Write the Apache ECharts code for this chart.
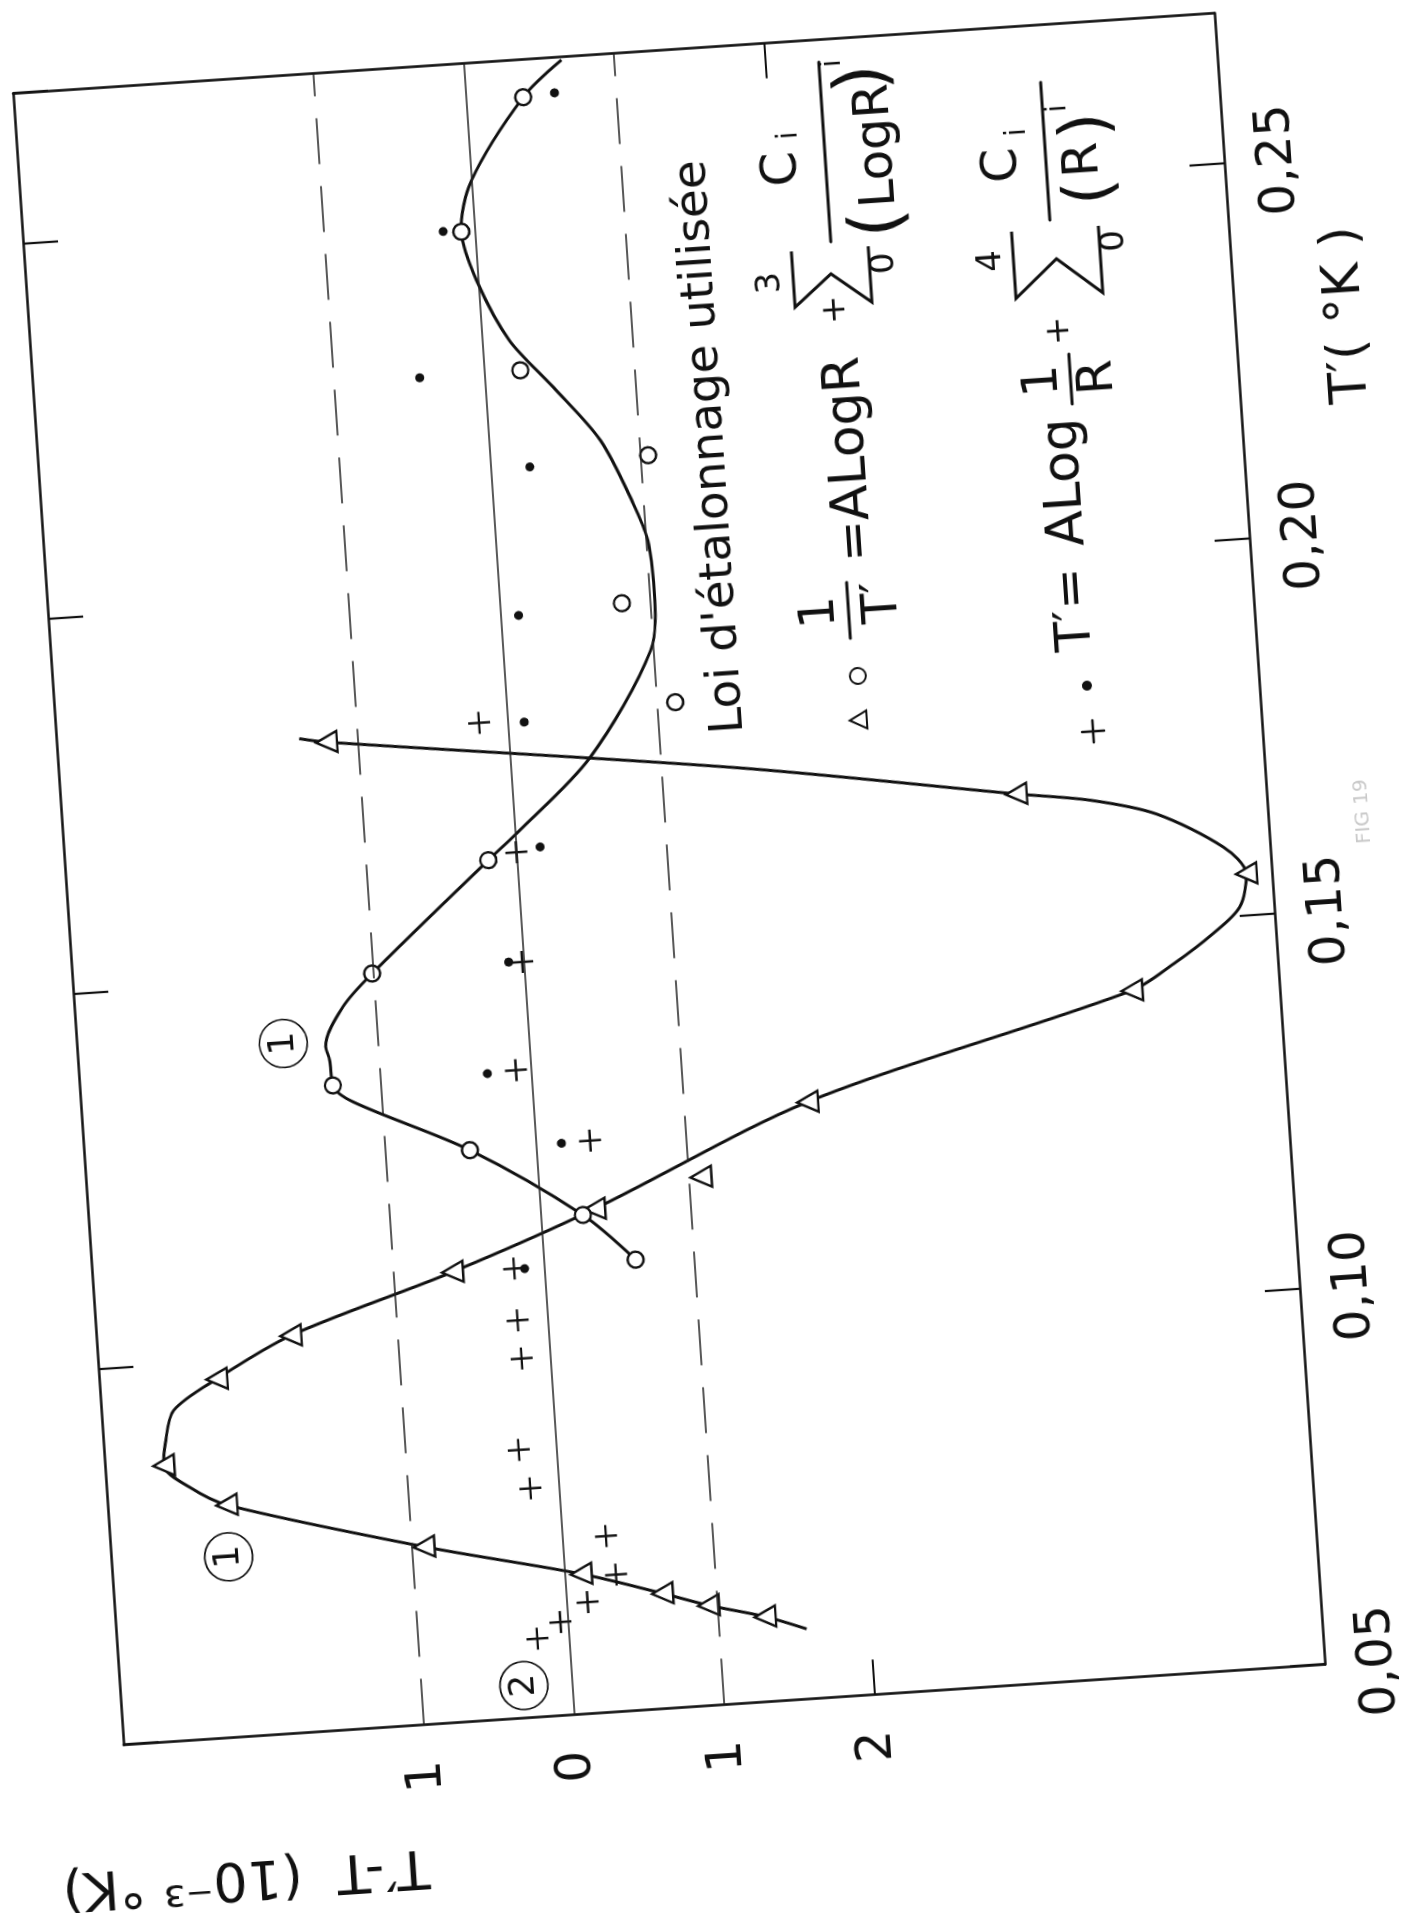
<!DOCTYPE html>
<html>
<head>
<meta charset="utf-8">
<script src="https://cdn.jsdelivr.net/npm/echarts@6/dist/echarts.min.js"></script>
<style>
  html, body { margin: 0; padding: 0; background: #fff; }
  body { width: 1421px; height: 1913px; overflow: hidden; position: relative; }
  /* the sheet is drawn landscape and turned onto the portrait page */
  #chart { position: absolute; left: -430.85px; top: 28.7px; width: 2200px; height: 1700px;
           transform: rotate(-93.83deg); }
</style>
</head>
<body>
<div id="chart"></div>
<script>
// T' in K, deviation T'-T in 1e-3 K
const triangleT   = [0.0613, 0.0633, 0.0653, 0.0686, 0.0736, 0.0809, 0.0867, 0.0977, 0.1028, 0.1098, 0.1169, 0.1202, 0.1292, 0.1411, 0.1556, 0.1682, 0.1812];
const triangleDev = [-1.31, -0.94, -0.64, -0.11, 0.92, 2.21, 2.61, 2.22, 1.71, 0.61, -0.36, -1.08, -1.82, -4.02, -4.83, -3.34, 1.21];

const circleT   = [0.1098, 0.1162, 0.1258, 0.1356, 0.1501, 0.1641, 0.1834, 0.1970, 0.2164, 0.2288, 0.2477, 0.2650];
const circleDev = [-0.61, -0.28, 0.44, 1.32, 1.01, 0.19, -1.12, -0.81, -1.05, -0.24, 0.09, -0.38];

const dotT   = [0.2653, 0.2479, 0.2287, 0.2159, 0.1963, 0.1821, 0.1654, 0.1504, 0.1358, 0.1259, 0.1096];
const dotDev = [-0.59, 0.21, 0.43, -0.26, -0.12, -0.11, -0.16, 0.10, 0.29, -0.17, 0.13];

const plusT   = [0.1824, 0.1649, 0.1503, 0.1360, 0.1260, 0.1097, 0.1028, 0.0977, 0.0856, 0.0804, 0.0734, 0.0682, 0.0648, 0.0624, 0.0604];
const plusDev = [0.19, 0.00, 0.01, 0.10, -0.36, 0.20, 0.20, 0.19, 0.25, 0.19, -0.29, -0.34, -0.14, 0.05, 0.21];

// hand-drawn curve (1) through the triangle points
const triCurveT   = [0.0593, 0.0613, 0.0633, 0.0653, 0.0686, 0.0736, 0.0809, 0.0836, 0.0867, 0.0896, 0.0939, 0.0977, 0.1028, 0.1098, 0.1169, 0.1292, 0.1411, 0.1443, 0.1479, 0.1512, 0.1556, 0.1593, 0.1643, 0.1667, 0.1682, 0.1741, 0.1812, 0.1819];
const triCurveDev = [-1.58, -1.31, -0.94, -0.64, -0.11, 0.92, 2.21, 2.45, 2.61, 2.59, 2.52, 2.22, 1.71, 0.61, -0.36, -1.82, -4.02, -4.31, -4.58, -4.77, -4.83, -4.69, -4.26, -3.83, -3.34, -1.52, 1.21, 1.39];

// hand-drawn curve (1) through the circle points
const cirCurveT   = [0.1098, 0.1162, 0.1258, 0.1332, 0.1356, 0.1390, 0.1408, 0.1459, 0.1501, 0.1641, 0.1674, 0.1768, 0.1905, 0.1984, 0.2051, 0.2101, 0.2188, 0.2263, 0.2329, 0.2411, 0.2477, 0.2544, 0.2650, 0.2696];
const cirCurveDev = [-0.61, -0.28, 0.44, 1.19, 1.32, 1.33, 1.35, 1.22, 1.01, 0.19, -0.01, -0.53, -0.98, -1.03, -1.01, -0.93, -0.74, -0.45, -0.18, 0.01, 0.09, 0.00, -0.38, -0.65];

// circled curve numbers
const tagText = ['1', '1', '2'];
const tagT    = [0.1416, 0.0740, 0.0543];
const tagDev  = [1.63, 2.22, 0.32];

// reference levels and labelled ticks of the deviation axis
const dashedLevels = [1, -1];
const zeroLevel = 0;
const devLabelValues = [-2, -1, 0, 1];
const devTickValues = [-2];

const FONT = "'DejaVu Sans', 'Liberation Sans', sans-serif";
const INK = '#111';

const zip = (a, b) => a.map((v, i) => [v, b[i]]);

function txt(text, x, baseline, size, align, extra) {
  return Object.assign({
    type: 'text', silent: true,
    x: x, y: baseline - 0.35 * size,
    style: { text: text, fill: INK, fontSize: size, fontFamily: FONT,
             align: align || 'left', verticalAlign: 'middle' }
  }, extra || {});
}
function seg(x1, y1, x2, y2, w) {
  return { type: 'line', silent: true, shape: { x1, y1, x2, y2 },
           style: { stroke: INK, lineWidth: w || 3, lineCap: 'round' } };
}
function sigma(pts) {
  return { type: 'polyline', silent: true, shape: { points: pts },
           style: { stroke: INK, lineWidth: 3, fill: null, lineJoin: 'miter' } };
}

const graphics = [
  // heading of the key
  txt("Loi d'étalonnage utilisée", 1241, 937, 47),

  // first law: 1/T' = A Log R + sum C_i/(Log R)^i
  { type: 'polygon', silent: true, shape: { points: [[1237, 1058], [1255, 1058], [1246, 1041]] },
    style: { stroke: INK, fill: '#fff', lineWidth: 2 } },
  { type: 'circle', silent: true, shape: { cx: 1290, cy: 1052, r: 8 },
    style: { stroke: INK, fill: '#fff', lineWidth: 2 } },
  txt('1', 1356, 1037, 50, 'center'),
  seg(1328, 1047, 1384, 1047),
  txt('T′', 1362, 1100, 50, 'center'),
  txt('=', 1404, 1078, 50),
  txt('ALogR', 1445, 1078, 52),
  txt('+', 1657, 1066, 34, 'center'),
  sigma([[1718, 1014], [1662, 1014], [1693, 1052], [1662, 1091], [1718, 1091]]),
  txt('3', 1688, 1003, 34, 'center'),
  txt('0', 1700, 1118, 34, 'center'),
  txt('C', 1801, 1029, 50, 'center'),
  txt('i', 1834, 1030, 28, 'center'),
  seg(1725, 1054, 1905, 1054),
  txt('(', 1740, 1130, 72, 'center'),
  txt('LogR', 1756, 1125, 50),
  txt(')', 1886, 1124, 72, 'center'),
  txt('i', 1903, 1078, 28, 'center'),

  // second law: T' = A Log 1/R + sum C_i/R^i
  seg(1208, 1283, 1230, 1283, 2.5),
  seg(1219, 1272, 1219, 1294, 2.5),
  { type: 'circle', silent: true, shape: { cx: 1265, cy: 1280, r: 5 }, style: { fill: INK } },
  txt('T′=', 1300, 1291, 50),
  txt('ALog', 1405, 1291, 52),
  txt('1', 1572, 1275, 50, 'center'),
  seg(1547, 1284, 1597, 1284),
  txt('R', 1572, 1330, 50, 'center'),
  txt('+', 1621, 1288, 34, 'center'),
  sigma([[1723, 1235], [1656, 1235], [1693, 1278], [1656, 1322], [1723, 1322]]),
  txt('4', 1695, 1225, 34, 'center'),
  txt('0', 1707, 1349, 34, 'center'),
  txt('C', 1790, 1249, 50, 'center'),
  txt('i', 1822, 1258, 28, 'center'),
  seg(1732, 1274, 1870, 1274),
  txt('(', 1757, 1342, 66, 'center'),
  txt('R', 1790, 1330, 50, 'center'),
  txt(')', 1824, 1342, 66, 'center'),
  txt('i', 1843, 1300, 28, 'center'),

  // axis titles
  txt('T′( °K )', 1529, 1583, 52),
  { type: 'text', silent: true, x: 133, y: 545, rotation: Math.PI / 2,
    style: { text: 'T′-T  (10⁻³ °K)', fill: INK, fontSize: 54, fontFamily: FONT,
             align: 'left', verticalAlign: 'middle' } },

  // figure number, faint
  { type: 'text', silent: true, x: 1121, y: 1547,
    style: { text: 'FIG 19', fill: '#c9c9c9', fontSize: 20, fontFamily: FONT,
             align: 'center', verticalAlign: 'middle' } }
];

const frameLine = { show: true, onZero: false, lineStyle: { color: INK, width: 2.6 } };
const tickStyle = { color: INK, width: 2.2 };

const option = {
  animation: false,
  backgroundColor: '#fff',
  grid: { left: 272.6, top: 248, width: 1654.8, height: 1204, containLabel: false, outerBoundsMode: 'none' },
  xAxis: [
    { type: 'value', position: 'bottom', min: 0.05, max: 0.27, interval: 0.05,
      axisLine: frameLine,
      axisTick: { show: true, inside: true, length: 35, lineStyle: tickStyle },
      axisLabel: { show: true, margin: 29, fontSize: 50, fontFamily: FONT, color: INK,
                   showMaxLabel: false,
                   formatter: v => v.toFixed(2).replace('.', ',') },
      splitLine: { show: false } },
    { type: 'value', position: 'top', min: 0.05, max: 0.27, interval: 0.05,
      axisLine: frameLine,
      axisTick: { show: true, inside: true, length: 35, lineStyle: tickStyle },
      axisLabel: { show: false }, splitLine: { show: false } }
  ],
  yAxis: [
    { type: 'value', position: 'left', min: -5, max: 3, interval: 1,
      axisLine: frameLine,
      axisTick: { show: true, inside: true, length: 35, lineStyle: tickStyle, customValues: devTickValues },
      axisLabel: { show: true, margin: 36, fontSize: 50, fontFamily: FONT, color: INK,
                   customValues: devLabelValues,
                   formatter: v => String(Math.abs(v)) },
      splitLine: { show: false } },
    { type: 'value', position: 'right', min: -5, max: 3, interval: 1,
      axisLine: frameLine,
      axisTick: { show: true, inside: true, length: 35, lineStyle: tickStyle, customValues: devTickValues },
      axisLabel: { show: false }, splitLine: { show: false } }
  ],
  series: [
    { name: 'courbe triangles', type: 'line', data: zip(triCurveT, triCurveDev),
      smooth: 0.3, symbol: 'none', z: 2,
      lineStyle: { color: INK, width: 3 },
      markLine: {
        silent: true, symbol: ['none', 'none'], label: { show: false }, animation: false,
        data: dashedLevels.map(v => ({ yAxis: v, lineStyle: { color: '#222', width: 1.7, type: [46, 22] } }))
          .concat([{ yAxis: zeroLevel, lineStyle: { color: '#222', width: 1.5, type: 'solid' } }])
      } },
    { name: 'courbe cercles', type: 'line', data: zip(cirCurveT, cirCurveDev),
      smooth: 0.3, symbol: 'none', z: 2,
      lineStyle: { color: INK, width: 3 } },
    { name: 'triangles', type: 'scatter', data: zip(triangleT, triangleDev), z: 4,
      symbol: 'triangle', symbolSize: [21, 21],
      itemStyle: { color: '#fff', borderColor: INK, borderWidth: 2.4, opacity: 1 } },
    { name: 'cercles', type: 'scatter', data: zip(circleT, circleDev), z: 4,
      symbol: 'circle', symbolSize: 16,
      itemStyle: { color: '#fff', borderColor: INK, borderWidth: 2.4, opacity: 1 } },
    { name: 'points', type: 'scatter', data: zip(dotT, dotDev), z: 4,
      symbol: 'circle', symbolSize: 9,
      itemStyle: { color: INK, opacity: 1 } },
    { name: 'croix', type: 'scatter', data: zip(plusT, plusDev), z: 4,
      symbol: 'path://M0,10L20,10M10,0L10,20', symbolSize: 22,
      itemStyle: { color: 'rgba(0,0,0,0)', borderColor: INK, borderWidth: 2.4, opacity: 1 } },
    { name: 'repères', type: 'scatter', z: 3,
      data: tagText.map((t, i) => ({ name: t, value: [tagT[i], tagDev[i]] })),
      symbol: 'circle', symbolSize: 48,
      itemStyle: { color: 'rgba(0,0,0,0)', borderColor: INK, borderWidth: 1.6, opacity: 1 },
      label: { show: true, position: 'inside', formatter: p => p.name,
               fontSize: 36, fontFamily: FONT, color: INK } }
  ],
  graphic: graphics
};

const chart = echarts.init(document.getElementById('chart'), null, { renderer: 'canvas' });
chart.setOption(option);
</script>
</body>
</html>
